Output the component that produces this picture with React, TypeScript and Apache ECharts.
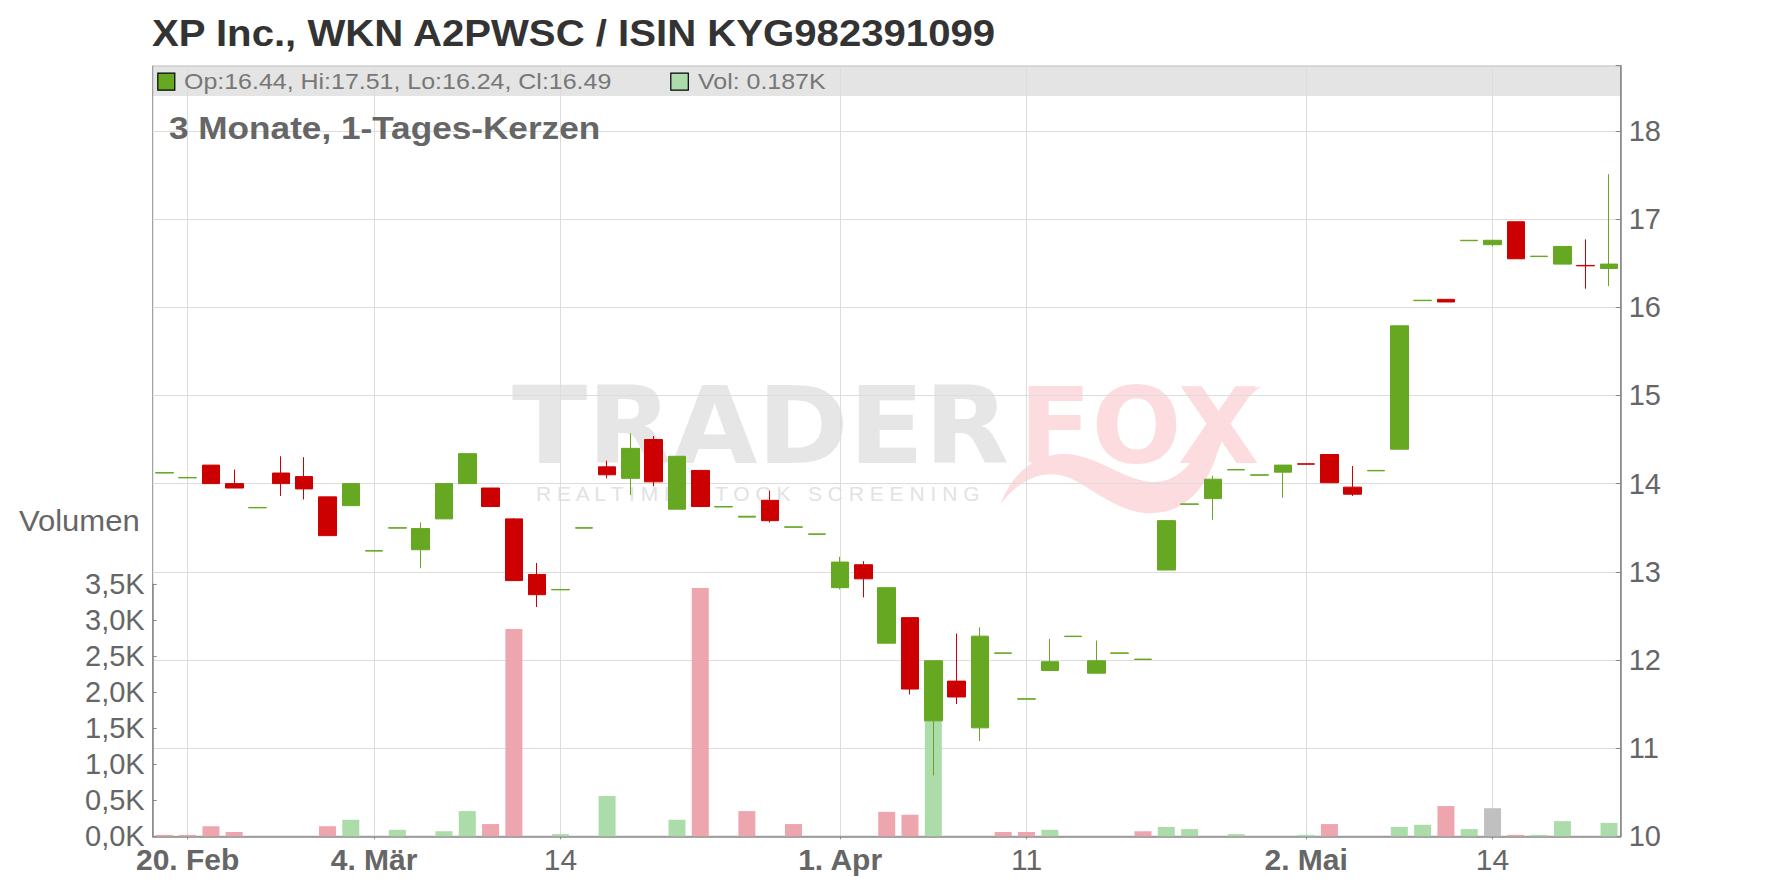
import React, { useEffect, useRef } from 'react';
import * as echarts from 'echarts';

// ---- data ----
const dates = [
  '2025-02-19','2025-02-20','2025-02-21','2025-02-24','2025-02-25','2025-02-26','2025-02-27','2025-02-28',
  '2025-03-03','2025-03-04','2025-03-05','2025-03-06','2025-03-07','2025-03-10','2025-03-11','2025-03-12','2025-03-13','2025-03-14',
  '2025-03-17','2025-03-18','2025-03-19','2025-03-20','2025-03-21','2025-03-24','2025-03-25','2025-03-26','2025-03-27','2025-03-28','2025-03-31',
  '2025-04-01','2025-04-02','2025-04-03','2025-04-04','2025-04-07','2025-04-08','2025-04-09','2025-04-10','2025-04-11',
  '2025-04-14','2025-04-15','2025-04-16','2025-04-17','2025-04-22','2025-04-23','2025-04-24','2025-04-25','2025-04-28','2025-04-29','2025-04-30',
  '2025-05-02','2025-05-05','2025-05-06','2025-05-07','2025-05-08','2025-05-09','2025-05-12','2025-05-13','2025-05-14',
  '2025-05-15','2025-05-16','2025-05-19','2025-05-20','2025-05-21'
];

const opens = [
  14.12, 14.065, 14.21, 14.00, 13.725, 14.12, 14.08, 13.85,
  13.75, 13.235, 13.495, 13.25, 13.60, 14.00, 13.95, 13.60, 12.97, 12.795,
  13.495, 14.19, 14.06, 14.50, 13.71, 14.15, 13.735, 13.62, 13.81, 13.505, 13.425,
  12.82, 13.08, 12.19, 12.48, 11.31, 11.76, 11.23, 12.075, 11.555,
  11.88, 12.265, 11.85, 12.075, 12.005, 13.02, 13.765, 13.83, 14.155, 14.095, 14.13,
  14.225, 14.33, 13.96, 14.145, 14.39, 16.075, 16.09, 16.755, 16.71,
  16.97, 16.575, 16.49, 16.475, 16.44
];
const highs = [
  14.125, 14.07, 14.21, 14.16, 13.73, 14.31, 14.30, 13.85,
  14.00, 13.24, 13.50, 13.56, 14.00, 14.34, 13.95, 13.61, 13.10, 12.80,
  13.50, 14.26, 14.57, 14.54, 14.31, 14.15, 13.74, 13.63, 13.92, 13.51, 13.43,
  13.17, 13.12, 12.82, 12.48, 11.99, 12.30, 12.37, 12.08, 11.56,
  12.24, 12.27, 12.22, 12.08, 12.01, 13.58, 13.77, 14.09, 14.16, 14.10, 14.21,
  14.225, 14.33, 14.20, 14.15, 15.79, 16.08, 16.09, 16.76, 16.76,
  16.97, 16.58, 16.69, 16.77, 17.51
];
const lows = [
  14.12, 14.065, 14.00, 13.95, 13.725, 13.86, 13.82, 13.41,
  13.75, 13.235, 13.495, 13.04, 13.60, 14.00, 13.74, 12.90, 12.60, 12.795,
  13.495, 14.06, 13.87, 13.97, 13.71, 13.74, 13.735, 13.62, 13.56, 13.505, 13.425,
  12.80, 12.71, 12.19, 11.61, 10.69, 11.50, 11.08, 12.075, 11.555,
  11.88, 12.265, 11.85, 12.075, 12.005, 13.02, 13.765, 13.59, 14.155, 14.095, 13.84,
  14.22, 14.01, 13.86, 14.145, 14.39, 16.075, 16.06, 16.755, 16.69,
  16.55, 16.575, 16.49, 16.21, 16.24
];
const closes = [
  14.125, 14.07, 14.00, 13.95, 13.73, 14.00, 13.94, 13.41,
  14.00, 13.24, 13.50, 13.49, 14.00, 14.34, 13.74, 12.90, 12.74, 12.80,
  13.50, 14.10, 14.40, 14.02, 14.31, 13.74, 13.74, 13.63, 13.58, 13.51, 13.43,
  13.11, 12.92, 12.82, 11.67, 11.99, 11.58, 12.27, 12.08, 11.56,
  11.98, 12.27, 11.99, 12.08, 12.01, 13.58, 13.77, 14.05, 14.16, 14.10, 14.21,
  14.22, 14.01, 13.88, 14.15, 15.79, 16.08, 16.06, 16.76, 16.76,
  16.55, 16.58, 16.69, 16.47, 16.49
];
// volume in thousands
const volumes = [
  0.02, 0.02, 0.14, 0.06, 0, 0, 0, 0.14,
  0.23, 0, 0.09, 0, 0.07, 0.35, 0.17, 2.88, 0, 0.03,
  0, 0.56, 0, 0, 0.23, 3.45, 0, 0.35, 0, 0.17, 0,
  0, 0, 0.34, 0.30, 2.45, 0, 0, 0.06, 0.06,
  0.09, 0, 0, 0, 0.07, 0.13, 0.10, 0, 0.03, 0, 0,
  0.02, 0.17, 0, 0, 0.13, 0.16, 0.42, 0.10, 0.39,
  0.02, 0.02, 0.21, 0, 0.187
];
const prevClose = 14.2; // close of the day before the window

const tickDates = ['2025-02-20', '2025-03-04', '2025-03-14', '2025-04-01', '2025-04-11', '2025-05-02', '2025-05-14'];
const tickLabels = ['20. Feb', '4. Mär', '14', '1. Apr', '11', '2. Mai', '14'];

const titleText = 'XP Inc., WKN A2PWSC / ISIN KYG982391099';
const subtitleText = '3 Monate, 1-Tages-Kerzen';
const volumeName = 'Volumen';

// ---- styles ----
const GREEN = '#66a821';
const RED = '#cc0000';
const VOL_UP = '#abdcaa';
const VOL_DOWN = '#eea6ae';
const VOL_FLAT = '#c0c0c0';
const FONT = '"Liberation Sans", Arial, sans-serif';

export default function App() {
  const ref = useRef<HTMLDivElement>(null);

  useEffect(() => {
    if (!ref.current) return;
    echarts.graphic.registerShape(
      'foxTail',
      echarts.graphic.extendPath(
        'M 1000 505 C 1015 465 1045 450 1075 455 C 1100 460 1120 475 1140 480 C 1170 488 1190 470 1205 440 C 1220 410 1240 392 1262 386 C 1240 400 1225 430 1215 460 C 1200 500 1175 515 1145 513 C 1115 510 1095 490 1070 478 C 1045 468 1020 478 1000 505 Z',
        {}
      )
    );
    const chart = echarts.init(ref.current, null, { renderer: 'svg' });

    const tickIdx = tickDates.map((d) => dates.indexOf(d));
    const isTick = (i: number) => tickIdx.indexOf(i) >= 0;
    const last = dates.length - 1;

    const volColor = (i: number) => {
      const prev = i === 0 ? prevClose : closes[i - 1];
      return closes[i] > prev ? VOL_UP : closes[i] < prev ? VOL_DOWN : VOL_FLAT;
    };

    const L = 152.7;
    const R = 1776 - 1620.7;
    const B = 888 - 836.3;

    const headerText = `Op:${opens[last].toFixed(2)}, Hi:${highs[last].toFixed(2)}, Lo:${lows[last].toFixed(2)}, Cl:${closes[last].toFixed(2)}`;
    const volText = `Vol: ${volumes[last].toFixed(3)}K`;

    chart.setOption({
      animation: false,
      backgroundColor: '#ffffff',
      textStyle: { fontFamily: FONT },
      grid: [
        { left: L, right: R, top: 65.7, bottom: B, show: true, borderColor: '#8c8c8c', borderWidth: 1, backgroundColor: 'transparent' },
        { left: L, right: R, top: 584.3, bottom: B }
      ],
      xAxis: [
        {
          type: 'category', gridIndex: 0, data: dates, boundaryGap: true,
          axisLine: { show: false }, axisTick: { show: false }, axisLabel: { show: false },
          splitLine: { show: true, interval: (i: number) => isTick(i), alignWithLabel: true, lineStyle: { color: '#dcdcdc', width: 1 } }
        },
        {
          type: 'category', gridIndex: 1, data: dates, boundaryGap: true,
          axisLine: { show: true, lineStyle: { color: '#888888', width: 1.5 } },
          axisTick: { show: true, alignWithLabel: true, interval: (i: number) => isTick(i), length: 3, lineStyle: { color: '#888888' } },
          splitLine: { show: false },
          axisLabel: {
            interval: (i: number) => isTick(i),
            margin: 8,
            formatter: (v: string) => {
              const k = tickDates.indexOf(v);
              if (k < 0) return '';
              const t = tickLabels[k];
              return /[A-Za-zä]/.test(t) ? `{b|${t}}` : `{r|${t}}`;
            },
            rich: {
              b: { fontSize: 30, fontWeight: 'bold', color: '#666666', fontFamily: FONT },
              r: { fontSize: 30, color: '#666666', fontFamily: FONT }
            }
          }
        }
      ],
      yAxis: [
        {
          type: 'value', gridIndex: 0, position: 'right', min: 10, max: 18.74, interval: 1,
          axisLine: { show: true, lineStyle: { color: '#888888', width: 1.5 } },
          axisTick: { show: true, inside: true, length: 5, lineStyle: { color: '#888888' } },
          axisLabel: {
            color: '#666666', fontSize: 29, fontFamily: FONT, margin: 8,
            formatter: (v: number) => (Math.abs(v - Math.round(v)) < 1e-6 ? String(Math.round(v)) : '')
          },
          splitLine: { show: true, lineStyle: { color: '#dcdcdc', width: 1 } }
        },
        {
          type: 'value', gridIndex: 1, position: 'left', min: 0, max: 3.5, interval: 0.5,
          axisLine: { show: true, lineStyle: { color: '#888888', width: 1.5 } },
          axisTick: { show: true, inside: true, length: 4, lineStyle: { color: '#888888' } },
          axisLabel: {
            color: '#666666', fontSize: 29, fontFamily: FONT, margin: 8,
            formatter: (v: number) => v.toFixed(1).replace('.', ',') + 'K'
          },
          splitLine: { show: false }
        }
      ],
      graphic: [
        // header band
        { type: 'rect', z: -2, silent: true, shape: { x: L, y: 65.7, width: 1620.7 - L, height: 30.3 }, style: { fill: '#e4e4e4' } },
        // watermark
        { type: 'text', z: -1, silent: true, x: 512, y: 426.7, scaleX: 1.04,
          style: { text: 'TRADER', fontFamily: '"DejaVu Sans", sans-serif', fontWeight: 'bold', fontSize: 106, fill: '#e6e6e6', align: 'left', verticalAlign: 'middle', textAlign: 'left', textVerticalAlign: 'middle' } },
        { type: 'text', z: -1, silent: true, x: 1019, y: 426.7,
          style: { text: 'FOX', fontFamily: '"DejaVu Sans", sans-serif', fontWeight: 'bold', fontSize: 106, fill: '#fddcdf', align: 'left', verticalAlign: 'middle', textAlign: 'left', textVerticalAlign: 'middle' } },
        { type: 'text', z: -1, silent: true, x: 536, y: 493,
          style: { text: 'R E A L T I M E   S T O C K   S C R E E N I N G', fontFamily: FONT, fontSize: 21, fill: '#e2e2e2', align: 'left', verticalAlign: 'middle', textAlign: 'left', textVerticalAlign: 'middle' } },
        { type: 'foxTail', z: -1, silent: true, x: 0, y: 0, scaleX: 1, scaleY: 1, style: { fill: '#fddcdf' } },
        // title
        { type: 'text', z: 10, x: 152, y: 33, scaleX: 1.085,
          style: { text: titleText, fontFamily: FONT, fontWeight: 'bold', fontSize: 37, fill: '#333333', align: 'left', verticalAlign: 'middle', textAlign: 'left', textVerticalAlign: 'middle' } },
        // header legend
        { type: 'rect', z: 10, shape: { x: 157.8, y: 73.2, width: 17, height: 17 }, style: { fill: GREEN, stroke: '#000000', lineWidth: 1.2 } },
        { type: 'text', z: 10, x: 184, y: 82, scaleX: 1.135,
          style: { text: headerText, fontFamily: FONT, fontSize: 22, fill: '#777777', align: 'left', verticalAlign: 'middle', textAlign: 'left', textVerticalAlign: 'middle' } },
        { type: 'rect', z: 10, shape: { x: 670.8, y: 73.2, width: 17.5, height: 17 }, style: { fill: VOL_UP, stroke: '#000000', lineWidth: 1.2 } },
        { type: 'text', z: 10, x: 698, y: 82, scaleX: 1.135,
          style: { text: volText, fontFamily: FONT, fontSize: 22, fill: '#777777', align: 'left', verticalAlign: 'middle', textAlign: 'left', textVerticalAlign: 'middle' } },
        // subtitle
        { type: 'text', z: 10, x: 169, y: 127.8, scaleX: 1.135,
          style: { text: subtitleText, fontFamily: FONT, fontWeight: 'bold', fontSize: 31, fill: '#666666', align: 'left', verticalAlign: 'middle', textAlign: 'left', textVerticalAlign: 'middle' } },
        // volume axis name
        { type: 'text', z: 10, x: 19, y: 521.2, scaleX: 1.07,
          style: { text: volumeName, fontFamily: FONT, fontSize: 29, fill: '#666666', align: 'left', verticalAlign: 'middle', textAlign: 'left', textVerticalAlign: 'middle' } }
      ],
      series: [
        {
          type: 'bar', name: 'Vol', xAxisIndex: 1, yAxisIndex: 1, barWidth: 17, z: 2,
          data: volumes.map((v, i) => ({ value: v, itemStyle: { color: volColor(i) } }))
        },
        {
          type: 'candlestick', name: 'Kurs', xAxisIndex: 0, yAxisIndex: 0, barWidth: 18, z: 5,
          data: dates.map((_, i) => [opens[i], closes[i], lows[i], highs[i]]),
          itemStyle: { color: GREEN, color0: RED, borderColor: GREEN, borderColor0: RED, borderWidth: 1 }
        }
      ]
    });

    return () => chart.dispose();
  }, []);

  return (
    <div
      ref={ref}
      style={{ position: 'fixed', left: 0, top: 0, width: 1776, height: 888, background: '#ffffff' }}
    />
  );
}
